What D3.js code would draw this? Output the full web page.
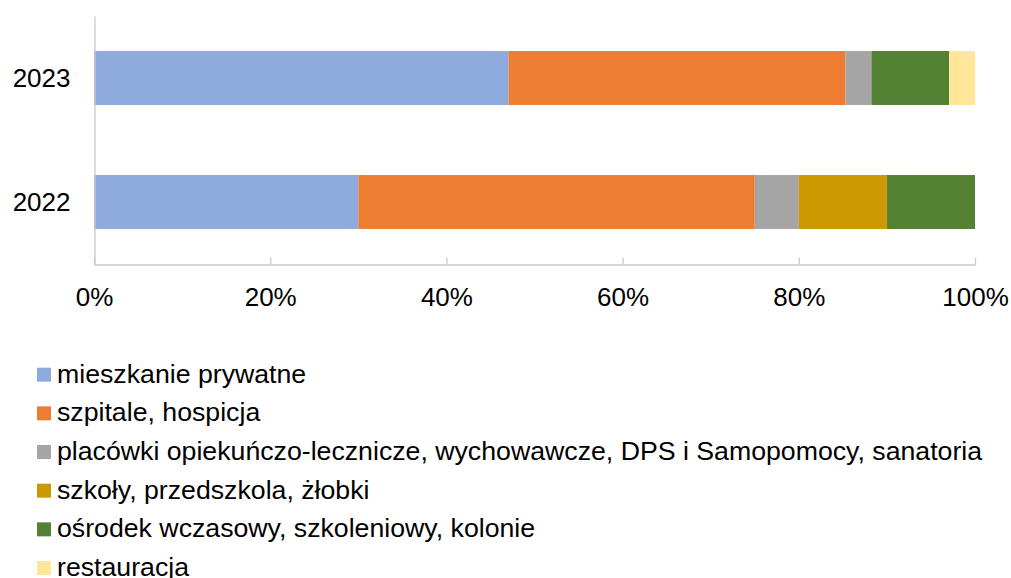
<!DOCTYPE html>
<html>
<head>
<meta charset="utf-8">
<script src="https://cdn.jsdelivr.net/npm/d3@7"></script>
<style>
  body { margin: 0; background: #fff; }
  text { font-family: "Liberation Sans", Arial, sans-serif; fill: #000; }
</style>
</head>
<body>
<div id="chart"></div>
<script>
// categories (top to bottom) and series, values in %
const years = ["2023", "2022"];
const seriesNames = [
    "mieszkanie prywatne",
    "szpitale, hospicja",
    "placówki opiekuńczo-lecznicze, wychowawcze, DPS i Samopomocy, sanatoria",
    "szkoły, przedszkola, żłobki",
    "ośrodek wczasowy, szkoleniowy, kolonie",
    "restauracja"
];
const values2023 = [47.06, 38.24, 2.94, 0, 8.82, 2.94];
const values2022 = [30, 45, 5, 10, 10, 0];
const seriesColors = ["#8FAADC", "#ED7D31", "#A5A5A5", "#CC9900", "#548235", "#FFE699"];
const xTicks = [0, 20, 40, 60, 80, 100];

const width = 1011, height = 578;
const svg = d3.select("#chart").append("svg")
    .attr("width", width)
    .attr("height", height);

const x = d3.scaleLinear().domain([0, 100]).range([94, 975]);
const y = d3.scaleBand().domain(years).range([16, 264]).paddingInner(0.565).paddingOuter(0.2825);

// stack data
let rows = years.map((yr, i) => {
    let vals = i == 0 ? values2023 : values2022;
    let r = { year: yr };
    seriesNames.forEach((s, j) => r[s] = vals[j]);
    return r;
});
let stack = d3.stack().keys(seriesNames)(rows);

svg.append("g").selectAll("g")
    .data(stack)
    .join("g")
    .attr("fill", (d, i) => seriesColors[i])
    .selectAll("rect")
    .data(d => d)
    .join("rect")
    .attr("x", d => x(d[0]))
    .attr("width", d => x(d[1]) - x(d[0]))
    .attr("y", d => y(d.data.year))
    .attr("height", y.bandwidth());

// x axis, ticks pointing up
const xAxis = svg.append("g")
    .attr("transform", "translate(0,264.5)")
    .call(d3.axisBottom(x).tickValues(xTicks).tickSizeInner(-7).tickSizeOuter(0).tickFormat(d => d + "%"));
xAxis.select(".domain").attr("stroke", "#c9c9c9").attr("stroke-width", 1.3);
xAxis.selectAll(".tick line").attr("stroke", "#c9c9c9").attr("stroke-width", 1.3);
xAxis.selectAll(".tick text")
    .attr("y", 41)
    .attr("dy", 0)
    .style("font-size", "26px")
    .style("font-family", "Liberation Sans, Arial, sans-serif");

// y axis
const yAxis = svg.append("g")
    .attr("transform", "translate(94.5,0)")
    .call(d3.axisLeft(y).tickSize(0).tickPadding(24));
yAxis.select(".domain").attr("stroke", "#c9c9c9").attr("stroke-width", 1.3);
yAxis.selectAll(".tick text")
    .attr("dy", "0.36em")
    .style("font-size", "26px")
    .style("font-family", "Liberation Sans, Arial, sans-serif");

// legend
const legend = svg.append("g");
let item = legend.selectAll("g")
    .data(seriesNames)
    .join("g")
    .attr("transform", (d, i) => "translate(37," + (374.7 + i * 38.66) + ")");
item.append("rect")
    .attr("x", 0).attr("y", -7)
    .attr("width", 14).attr("height", 14)
    .attr("fill", (d, i) => seriesColors[i]);
item.append("text")
    .attr("x", 20)
    .attr("y", 8)
    .style("font-size", "26.7px")
    .text(d => d);
</script>
</body>
</html>
